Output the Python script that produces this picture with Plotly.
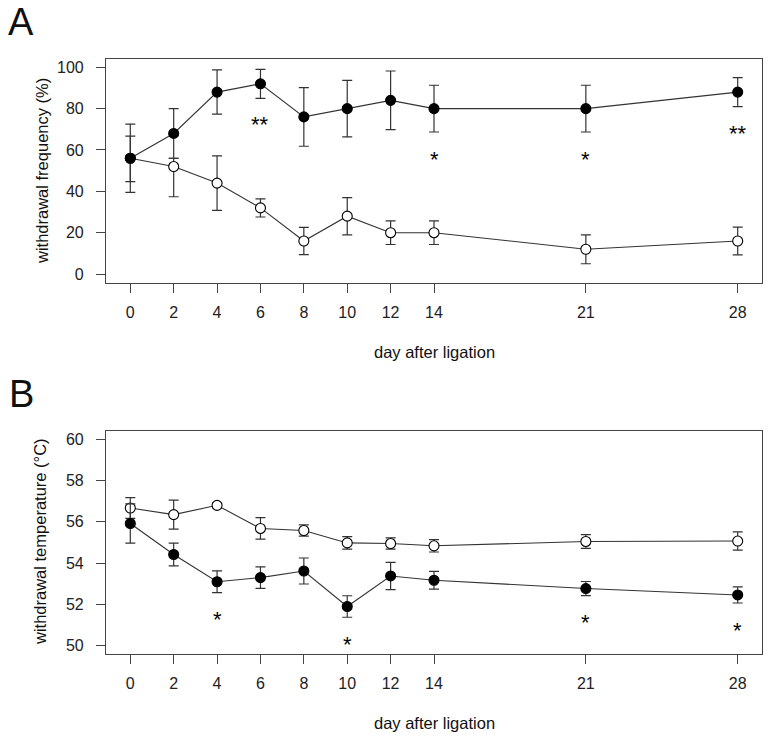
import plotly.graph_objects as go

# ---------------- data ----------------
days = [0, 2, 4, 6, 8, 10, 12, 14, 21, 28]
x_tick_labels = ["0", "2", "4", "6", "8", "10", "12", "14", "21", "28"]

# Panel A: withdrawal frequency (%)
freq_filled = [56, 68, 88, 92, 76, 80, 84, 80, 80, 88]
freq_filled_err_up = [16.5, 12, 10.7, 7, 14.2, 13.7, 14.2, 11.3, 11.3, 7]
freq_filled_err_dn = [16.5, 12, 10.7, 7, 14.2, 13.7, 14.2, 11.3, 11.3, 7]
freq_open = [56, 52, 44, 32, 16, 28, 20, 20, 12, 16]
freq_open_err_up = [10.7, 4, 13.2, 4.4, 6.6, 9, 5.7, 5.7, 7, 6.7]
freq_open_err_dn = [11.3, 14.6, 13.2, 4.4, 6.6, 9, 5.7, 5.7, 7, 6.7]

# Panel B: withdrawal temperature (°C)
temp_filled = [55.92, 54.42, 53.10, 53.30, 53.62, 51.90, 53.38, 53.17, 52.77, 52.46]
temp_filled_err = [0.95, 0.55, 0.53, 0.52, 0.63, 0.52, 0.66, 0.43, 0.34, 0.39]
temp_open = [56.67, 56.35, 56.80, 55.68, 55.58, 54.98, 54.95, 54.84, 55.05, 55.07]
temp_open_err = [0.50, 0.70, 0.12, 0.52, 0.27, 0.30, 0.27, 0.30, 0.33, 0.44]

# significance marks
sig_A_days = [6, 14, 21, 28]
sig_A_y = [74.5, 58, 58, 70.4]
sig_A_text = ["**", "*", "*", "**"]
sig_B_days = [4, 10, 21, 28]
sig_B_y = [51.5, 50.32, 51.38, 51.0]
sig_B_text = ["*", "*", "*", "*"]

A_yticks = [0, 20, 40, 60, 80, 100]
B_yticks = [50, 52, 54, 56, 58, 60]

# ---------------- style ----------------
W, H = 768, 737
FONT = "Liberation Sans, Arial, sans-serif"
LINE = "#333333"
BOX = "#444444"

def px_x(p):
    return p / W

def px_y(p):
    return 1 - p / H

fig = go.Figure()

def add_series(xa, ya, y, up, dn, filled):
    fig.add_trace(go.Scatter(
        x=days, y=y, xaxis=xa, yaxis=ya,
        mode="lines+markers",
        line=dict(color=LINE, width=1.1),
        marker=dict(size=10, color="black" if filled else "white",
                    line=dict(color="black", width=1.1), symbol="circle"),
        error_y=dict(type="data", array=up, arrayminus=dn, symmetric=False,
                     color=LINE, thickness=1.2, width=5),
        showlegend=False,
    ))

add_series("x", "y", freq_open, freq_open_err_up, freq_open_err_dn, False)
add_series("x", "y", freq_filled, freq_filled_err_up, freq_filled_err_dn, True)
add_series("x2", "y2", temp_open, temp_open_err, temp_open_err, False)
add_series("x2", "y2", temp_filled, temp_filled_err, temp_filled_err, True)

axis_common = dict(
    showline=True, linecolor=BOX, linewidth=1.2, mirror=True,
    ticks="outside", ticklen=9, tickwidth=1.2, tickcolor=BOX,
    showgrid=False, zeroline=False, automargin=False,
    tickfont=dict(family=FONT, size=16, color="#222222"),
)

xd = [px_x(106), px_x(762)]
fig.update_layout(
    width=W, height=H,
    margin=dict(l=0, r=0, t=0, b=0),
    paper_bgcolor="white", plot_bgcolor="white",
    xaxis=dict(domain=xd, range=[-1.12, 29.12], tickvals=days, ticktext=x_tick_labels,
               anchor="y", ticklabelstandoff=6, **axis_common),
    yaxis=dict(domain=[px_y(283), px_y(59)], range=[-4.32, 104], tickvals=A_yticks,
               anchor="x", ticklabelstandoff=9, **axis_common),
    xaxis2=dict(domain=xd, range=[-1.12, 29.12], tickvals=days, ticktext=x_tick_labels,
                anchor="y2", ticklabelstandoff=6, **axis_common),
    yaxis2=dict(domain=[px_y(654), px_y(431)], range=[49.6, 60.4], tickvals=B_yticks,
                anchor="x2", ticklabelstandoff=9, **axis_common),
)

annotations = []
for d, yv, t in zip(sig_A_days, sig_A_y, sig_A_text):
    annotations.append(dict(x=d, y=yv, xref="x", yref="y", text=t, showarrow=False,
                            font=dict(family=FONT, size=22, color="black"),
                            xanchor="center", yanchor="middle", yshift=-5))
for d, yv, t in zip(sig_B_days, sig_B_y, sig_B_text):
    annotations.append(dict(x=d, y=yv, xref="x2", yref="y2", text=t, showarrow=False,
                            font=dict(family=FONT, size=22, color="black"),
                            xanchor="center", yanchor="middle", yshift=-5))

def label(text, x, y, size, angle=0):
    return dict(x=px_x(x), y=px_y(y), xref="paper", yref="paper", text=text,
                showarrow=False, textangle=angle, xanchor="center", yanchor="middle",
                font=dict(family=FONT, size=size, color="#111111"))

annotations += [
    label("withdrawal frequency (%)", 42, 171, 16.5, -90),
    label("day after ligation", 434, 352, 16.5),
    label("withdrawal temperature (°C)", 40, 542, 16.5, -90),
    label("day after ligation", 434, 723, 16.5),
    label("A", 21, 22, 38),
    label("B", 21, 394, 38),
]
fig.update_layout(annotations=annotations)

# remove the browser's default 8px body margin so the figure sits at (0, 0)
fig.write_html("out.html", config={"displayModeBar": False},
               post_script="document.body.style.margin='0';")
